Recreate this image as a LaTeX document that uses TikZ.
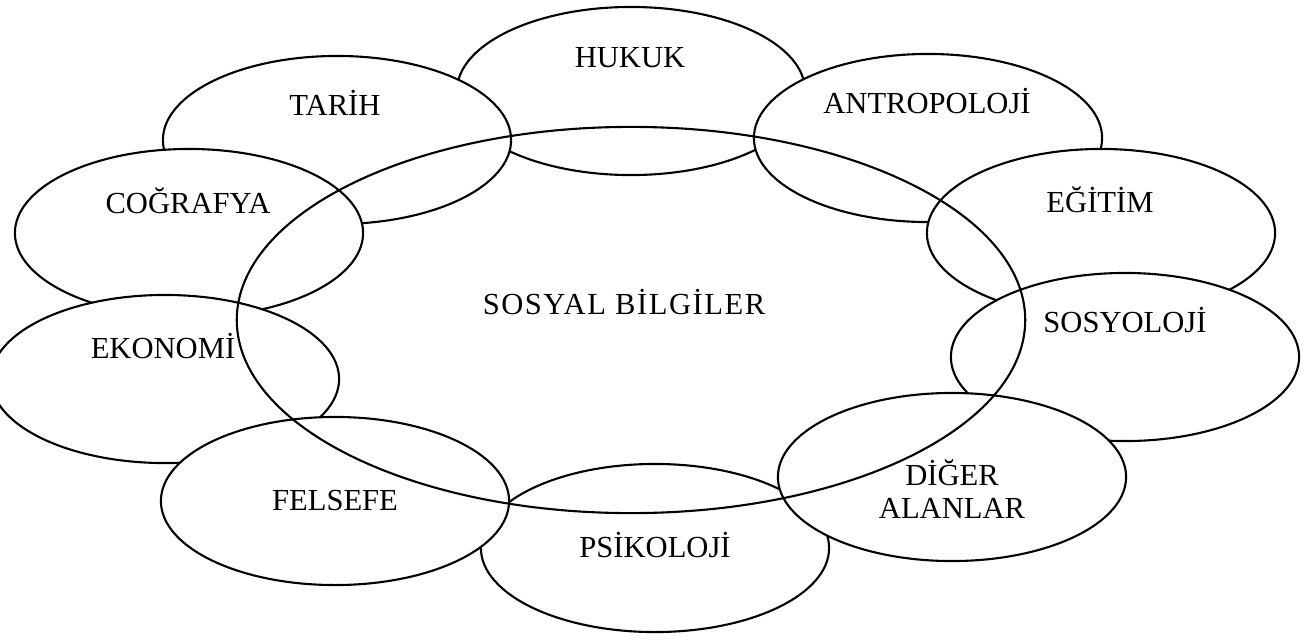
\documentclass[tikz,border=0pt]{standalone}
\usepackage{fontspec}
\setmainfont{Liberation Serif}
\usetikzlibrary{shapes.geometric}

\begin{document}
\begin{tikzpicture}[
    x=0.01cm, y=-0.01cm,
    field/.style={draw, ellipse, fill=white, line width=0.6pt, minimum width=3.48cm, minimum height=1.68cm, inner sep=0pt},
    core/.style={draw, ellipse, line width=0.6pt, minimum width=7.88cm, minimum height=3.86cm, inner sep=0pt},
    lbl/.style={font=\fontsize{8.7}{9.4}\selectfont, anchor=base, inner sep=0pt}
]
\useasboundingbox (0,0) rectangle (1306,639);
\clip (0,0) rectangle (1306,639);
% back ones first, later ellipses hide the covered arcs
\node[field] (hukuk) at (631,91) {};
\node[field] (antro) at (928,138) {};
\node[field] (egitim) at (1101,233) {};
\node[field] (sosyo) at (1125,357) {};
\node[field] (psiko) at (655,548) {};
\node[field] (diger) at (952,477) {};
\node[field] (tarih) at (337,140) {};
\node[field] (cografya) at (189,233) {};
\node[field] (ekonomi) at (165,379) {};
\node[field] (felsefe) at (335,501) {};
% big one on top, no fill
\node[core] (sb) at (631,320) {};

% labels
\node[lbl] (hukukT) at (630,67) {HUKUK};
\node[lbl] (tarihT) at (335,115) {TARİH};
\node[lbl] (antroT) at (927,113) {ANTROPOLOJİ};
\node[lbl] (egitimT) at (1100,212) {EĞİTİM};
\node[lbl] (cografyaT) at (188,213) {COĞRAFYA};
\node[lbl] (sosyoT) at (1125,332) {SOSYOLOJİ};
\node[lbl] (ekonomiT) at (163,358) {EKONOMİ};
\node[lbl] (felsefeT) at (335,510) {FELSEFE};
\node[lbl] (psikoT) at (655,557) {PSİKOLOJİ};
\node[lbl] (digerT) at (952,485) {DİĞER};
\node[lbl] (alanlarT) at (952,518) {ALANLAR};
\node[lbl] (sbT) at (624,314) {\addfontfeature{LetterSpace=5}SOSYAL BİLGİLER};
\end{tikzpicture}
\end{document}
